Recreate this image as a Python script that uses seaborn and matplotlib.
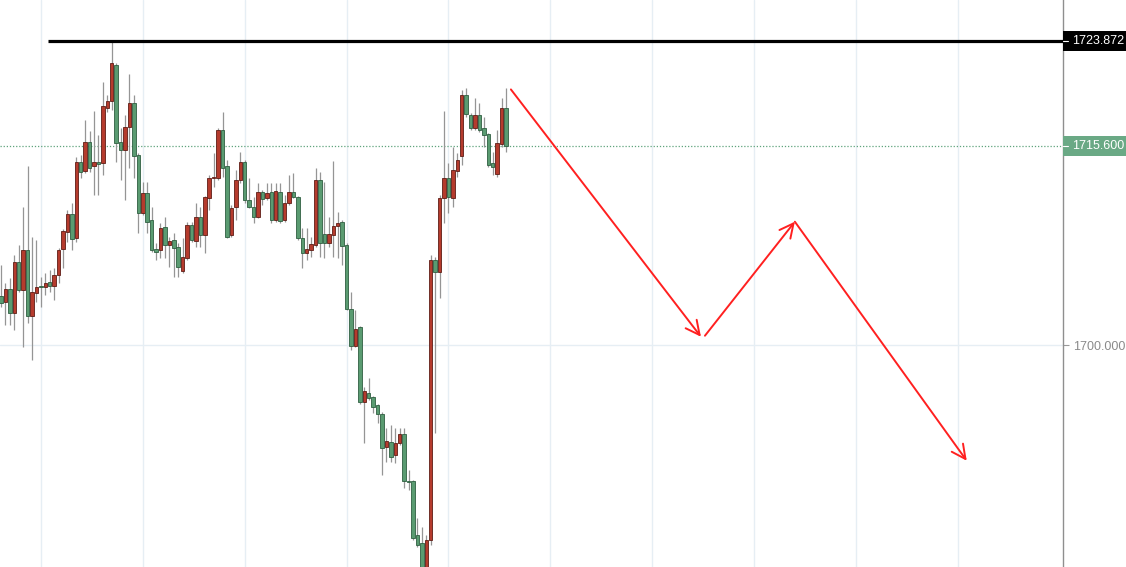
import numpy as np
import matplotlib
matplotlib.use('Agg')
import matplotlib.pyplot as plt
from matplotlib import transforms
from matplotlib.patches import Rectangle
import seaborn as sns

# OHLC bars (red = up bar, green = down bar)
opens = [1703.84, 1703.37, 1704.39, 1702.51, 1706.51, 1704.31, 1707.45, 1702.27, 1704.08, 1704.62,
         1704.55, 1704.94, 1704.62, 1705.49, 1707.53, 1708.86, 1710.27, 1708.39, 1714.35, 1713.64,
         1715.91, 1714.03, 1714.35, 1714.27, 1718.58, 1719.13, 1721.95, 1715.91, 1715.29, 1717.09,
         1718.97, 1714.89, 1710.35, 1711.92, 1709.80, 1707.53, 1707.45, 1709.25, 1707.84, 1708.23,
         1707.68, 1705.80, 1706.82, 1709.41, 1708.15, 1710.03, 1708.62, 1711.52, 1713.09, 1713.09,
         1716.85, 1714.03, 1708.62, 1710.82, 1712.93, 1714.35, 1711.37, 1710.82, 1710.03, 1711.99,
         1711.52, 1711.99, 1709.80, 1711.99, 1709.80, 1711.13, 1711.99, 1711.60, 1708.39, 1707.21,
         1707.45, 1707.84, 1712.93, 1708.70, 1708.00, 1708.62, 1709.33, 1709.64, 1707.84, 1702.82,
         1699.92, 1701.41, 1695.53, 1696.24, 1695.92, 1695.30, 1694.59, 1692.00, 1692.40, 1691.38,
         1692.32, 1693.02, 1689.34, 1689.34, 1685.11, 1684.48, 1681.97, 1684.71, 1706.66, 1705.72,
         1711.52, 1713.09, 1711.52, 1713.64, 1714.82, 1719.60, 1718.03, 1717.01, 1718.03, 1717.01,
         1716.54, 1714.27, 1713.41, 1715.76, 1718.58]
highs = [1706.27, 1704.86, 1705.25, 1707.06, 1707.84, 1710.82, 1714.03, 1708.47, 1708.23, 1705.33,
         1705.64, 1705.88, 1706.04, 1707.60, 1709.09, 1710.58, 1711.13, 1714.74, 1714.89, 1717.64,
         1716.78, 1718.34, 1716.46, 1720.62, 1719.60, 1723.87, 1722.11, 1717.01, 1718.03, 1721.24,
         1719.60, 1715.05, 1712.78, 1712.78, 1710.82, 1708.00, 1709.56, 1710.03, 1708.47, 1708.78,
         1708.00, 1708.39, 1709.64, 1709.64, 1711.13, 1710.82, 1711.68, 1713.33, 1715.05, 1717.01,
         1718.27, 1714.50, 1710.98, 1713.72, 1715.13, 1714.50, 1713.09, 1711.60, 1712.70, 1712.15,
         1712.70, 1712.70, 1712.70, 1712.70, 1711.76, 1713.33, 1713.48, 1711.68, 1709.17, 1709.17,
         1708.47, 1713.88, 1713.56, 1712.78, 1710.03, 1714.42, 1710.43, 1709.80, 1708.00, 1704.15,
         1702.74, 1701.49, 1696.71, 1697.41, 1696.00, 1695.37, 1694.75, 1693.49, 1693.73, 1693.49,
         1693.49, 1693.49, 1690.20, 1689.42, 1686.44, 1685.73, 1685.11, 1707.06, 1706.90, 1711.76,
         1718.34, 1714.27, 1715.52, 1715.05, 1719.99, 1720.15, 1718.19, 1719.36, 1718.97, 1717.87,
         1716.62, 1715.13, 1716.85, 1719.36, 1720.15]
lows = [1702.98, 1701.57, 1701.57, 1701.18, 1704.15, 1699.84, 1701.72, 1698.82, 1703.37, 1702.98,
        1703.92, 1704.15, 1703.53, 1704.86, 1706.04, 1708.07, 1707.45, 1708.07, 1713.09, 1713.48,
        1713.56, 1711.76, 1711.76, 1713.33, 1718.27, 1718.42, 1714.35, 1712.93, 1711.37, 1713.88,
        1713.09, 1708.78, 1710.19, 1708.78, 1707.29, 1706.66, 1706.82, 1706.82, 1706.11, 1705.33,
        1705.33, 1705.64, 1706.66, 1708.07, 1707.68, 1707.68, 1707.21, 1710.58, 1712.39, 1712.93,
        1713.17, 1708.39, 1708.47, 1709.80, 1712.70, 1711.13, 1710.74, 1709.56, 1709.96, 1710.98,
        1711.37, 1709.56, 1709.64, 1709.56, 1709.64, 1710.98, 1711.52, 1708.23, 1706.04, 1706.66,
        1706.90, 1707.68, 1706.90, 1706.82, 1707.68, 1706.90, 1706.82, 1706.27, 1702.74, 1699.61,
        1699.84, 1695.37, 1692.32, 1695.69, 1694.67, 1693.89, 1689.81, 1690.83, 1690.83, 1690.75,
        1692.16, 1688.79, 1688.63, 1684.71, 1684.17, 1681.58, 1681.19, 1684.32, 1693.10, 1703.68,
        1709.56, 1710.35, 1710.82, 1713.17, 1714.11, 1717.87, 1716.85, 1716.85, 1716.70, 1715.52,
        1713.95, 1713.33, 1713.17, 1715.52, 1715.13]
closes = [1703.29, 1704.39, 1702.51, 1706.51, 1704.31, 1707.45, 1702.27, 1704.15, 1704.55, 1704.55,
          1704.86, 1704.62, 1705.49, 1707.45, 1708.94, 1710.27, 1708.31, 1714.35, 1713.56, 1715.91,
          1713.88, 1714.35, 1714.19, 1718.74, 1719.13, 1722.11, 1715.84, 1715.29, 1717.09, 1718.97,
          1714.82, 1710.35, 1711.92, 1709.64, 1707.45, 1707.29, 1709.17, 1707.84, 1708.15, 1707.60,
          1706.11, 1706.90, 1709.41, 1708.23, 1710.03, 1708.62, 1711.60, 1713.09, 1713.17, 1716.85,
          1713.88, 1708.47, 1710.74, 1712.93, 1714.35, 1711.37, 1710.82, 1710.03, 1711.99, 1711.45,
          1711.92, 1709.80, 1712.07, 1709.72, 1711.13, 1711.99, 1711.60, 1708.39, 1707.21, 1707.53,
          1707.92, 1712.93, 1708.00, 1708.00, 1708.70, 1709.33, 1709.56, 1707.76, 1702.82, 1699.92,
          1701.25, 1695.53, 1696.39, 1695.85, 1695.14, 1694.59, 1691.93, 1692.47, 1691.22, 1692.32,
          1693.02, 1689.34, 1689.26, 1684.87, 1684.32, 1681.97, 1684.71, 1706.66, 1705.72, 1711.52,
          1713.09, 1711.60, 1713.72, 1714.50, 1719.60, 1718.11, 1717.01, 1718.03, 1716.85, 1716.46,
          1714.11, 1713.95, 1715.84, 1718.58, 1715.60]

resistance = 1723.872
resistance_start = 10.6
last_price = 1715.6
price_ticks = [1700.0]
day_bars = [9, 32, 55, 78, 101, 124, 147, 170, 193, 216]

# projected move drawn as three arrows (bar index, price)
arrow_x0 = [115.1, 158.9, 179.2]
arrow_y0 = [1720.04, 1700.73, 1709.67]
arrow_x1 = [158.0, 179.2, 218.0]
arrow_y1 = [1700.65, 1709.67, 1690.93]

sns.set_style('white')
plt.rcParams['font.family'] = ['Liberation Sans', 'DejaVu Sans']

fig = plt.figure(figsize=(11.26, 5.67), dpi=100)
ax = fig.add_axes([0, 0, 1063 / 1126, 1])

o = np.array(opens)
h = np.array(highs)
l = np.array(lows)
c = np.array(closes)
idx = np.arange(len(o))
up = c >= o

grid_col = '#e6eef4'
for b in day_bars:
    ax.axvline(b, color=grid_col, lw=1, zorder=0)
for p in price_ticks:
    ax.axhline(p, color=grid_col, lw=1, zorder=0)

ax.vlines(idx, l, h, color='#959595', lw=0.9, zorder=2)
body_lo = np.minimum(o, c)
body_h = np.maximum(np.abs(c - o), 0.06)
ax.bar(idx[up], body_h[up], bottom=body_lo[up], width=0.78,
       color='#b53b2d', edgecolor='#5f1d16', lw=0.6, zorder=3)
ax.bar(idx[~up], body_h[~up], bottom=body_lo[~up], width=0.78,
       color='#5a9b71', edgecolor='#2f5f41', lw=0.6, zorder=3)

ax.axhline(last_price, color='#5fa37c', lw=0.9, ls=(0, (1, 1.5)), zorder=1)
ax.hlines(resistance, resistance_start, 239.73, color='black', lw=2.3, zorder=4)

for xa, ya, xb, yb in zip(arrow_x0, arrow_y0, arrow_x1, arrow_y1):
    ax.annotate('', xy=(xb, yb), xytext=(xa, ya),
                arrowprops=dict(arrowstyle='->,head_length=0.5,head_width=0.25',
                                color='#ff2020', lw=1.4, mutation_scale=20,
                                shrinkA=0, shrinkB=0), zorder=5)

ax.set_xlim(-0.23, 239.73)
ax.set_ylim(1682.60, 1727.05)
ax.set_xticks([])
ax.yaxis.tick_right()
ax.set_yticks(price_ticks)
ax.set_yticklabels([f'{p:.3f}' for p in price_ticks])
ax.tick_params(axis='y', length=4, width=0.8, color='#999999', pad=3,
               labelsize=9, labelcolor='#8a8a8a')
for s in ['top', 'left', 'bottom']:
    ax.spines[s].set_visible(False)
ax.spines['right'].set_color('#8f8f8f')
ax.spines['right'].set_linewidth(1)

trans = transforms.blended_transform_factory(ax.transAxes, ax.transData)
box_h = 20 * (1727.05 - 1682.60) / 567
for val, col in [(resistance, 'black'), (last_price, '#6aa985')]:
    ax.add_patch(Rectangle((1.0, val - box_h / 2), 0.07, box_h, transform=trans,
                           facecolor=col, edgecolor='none', clip_on=False, zorder=6))
    ax.plot([1.0, 1.0 + 5 / 1063], [val, val], color='white', lw=0.8,
            transform=trans, clip_on=False, zorder=7)
    ax.text(1.0 + 9 / 1063, val, f'{val:.3f}', transform=trans, color='white',
            fontsize=9, va='center', ha='left', clip_on=False, zorder=7)

fig.savefig('out.png', dpi=100)
